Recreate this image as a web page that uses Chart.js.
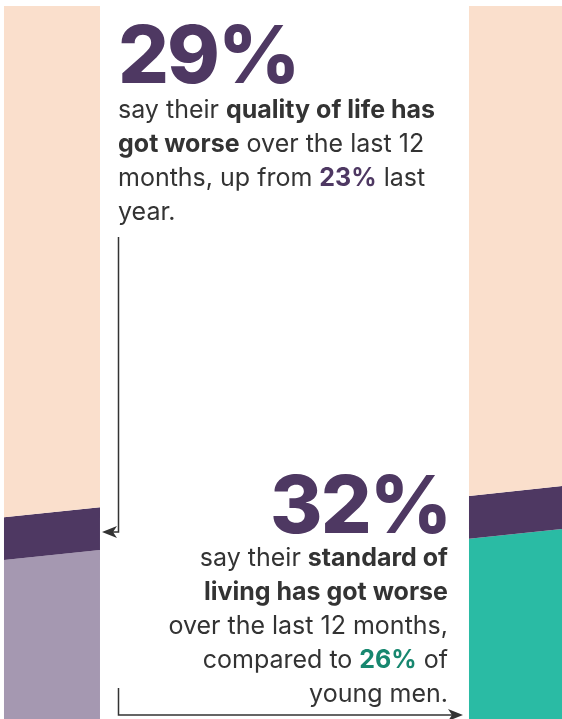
<!DOCTYPE html>
<html>
<head>
<meta charset="utf-8">
<script src="https://cdn.jsdelivr.net/npm/chart.js@4"></script>
<style>
  body { margin: 0; background: #fff; }
  #wrap { position: relative; width: 562px; height: 719px; overflow: hidden; font-family: Inter, sans-serif; color: #333; }
  #wrap canvas, #wrap svg { position: absolute; left: 0; top: 0; }
  .big { position: absolute; font-weight: 800; color: #4e3862; font-size: 80px; line-height: 80px; letter-spacing: -2px; }
  .txt { position: absolute; font-size: 25px; line-height: 34px; white-space: nowrap; }
  .txt b { font-weight: 700; }
  .pur { color: #4e3862; }
  .grn { color: #17876f; }
</style>
</head>
<body>
<div id="wrap">
  <canvas id="chart" width="562" height="719"></canvas>
  <svg width="562" height="719">
    <path d="M118.5 237 V532 H110" stroke="#333" stroke-width="1.5" fill="none"/>
    <polygon points="102,532 117,526 113,532 117,538" fill="#333"/>
    <path d="M118.5 688 V715 H455" stroke="#333" stroke-width="1.5" fill="none"/>
    <polygon points="463,715 448,709 452,715 448,721" fill="#333"/>
  </svg>
  <div class="big" style="left:118px; top:14px;">29%</div>
  <div class="txt" style="left:118px; top:92px;">
    say their <b>quality of life has</b><br>
    <b>got worse</b> over the last 12<br>
    months, up from <b class="pur">23%</b> last<br>
    year.
  </div>
  <div class="big" style="right:112px; top:464px;">32%</div>
  <div class="txt" style="right:114px; top:540px; text-align:right;">
    say their <b>standard of</b><br>
    <b>living has got worse</b><br>
    over the last 12 months,<br>
    compared to <b class="grn">26%</b> of<br>
    young men.
  </div>
</div>
<script>
// two columns: quality of life (vs last year), standard of living (vs young men)
const columns = ['Quality of life', 'Standard of living'];
const columnPos = [0, 1];
const baseValues = [23, 26];   // last year / young men
const riseValues = [6, 6];     // extra on top -> 29% / 32%
const restValues = [71, 68];   // remainder to 100%

const toPoints = vals => vals.map((v, i) => ({ x: columnPos[i], y: v }));

// draws each bar segment with a slanted internal edge
const slantBars = {
  id: 'slantBars',
  beforeDatasetsDraw(chart) {
    const { ctx, chartArea } = chart;
    const tilt = 0.105;
    chart.data.datasets.forEach((ds, di) => {
      chart.getDatasetMeta(di).data.forEach(bar => {
        const { x, y, base, width } = bar.getProps(['x', 'y', 'base', 'width'], true);
        const l = x - width / 2, r = x + width / 2, d = width * tilt / 2;
        const topD = y <= chartArea.top + 1 ? 0 : d;
        const botD = base >= chartArea.bottom - 1 ? 0 : d;
        ctx.beginPath();
        ctx.moveTo(l, y + topD);
        ctx.lineTo(r, y - topD);
        ctx.lineTo(r, base - botD);
        ctx.lineTo(l, base + botD);
        ctx.closePath();
        ctx.fillStyle = bar.options.backgroundColor;
        ctx.fill();
      });
    });
    return false;
  }
};

new Chart(document.getElementById('chart'), {
  type: 'bar',
  data: {
    datasets: [
      { label: 'Comparison', data: toPoints(baseValues), backgroundColor: ['#a598b1', '#2abba4'] },
      { label: 'Increase', data: toPoints(riseValues), backgroundColor: '#4e3862' },
      { label: 'Rest', data: toPoints(restValues), backgroundColor: '#fadfcc' },
    ],
  },
  options: {
    responsive: false,
    animation: false,
    barThickness: 96,
    layout: { padding: { top: 6, left: 0, right: 0, bottom: 0 } },
    plugins: { legend: { display: false }, tooltip: { enabled: false } },
    scales: {
      x: { type: 'linear', offset: false, min: -0.1118, max: 1.0968, stacked: true, display: false },
      y: { min: 0, max: 100, stacked: true, display: false },
    },
  },
  plugins: [slantBars],
});
</script>
</body>
</html>
